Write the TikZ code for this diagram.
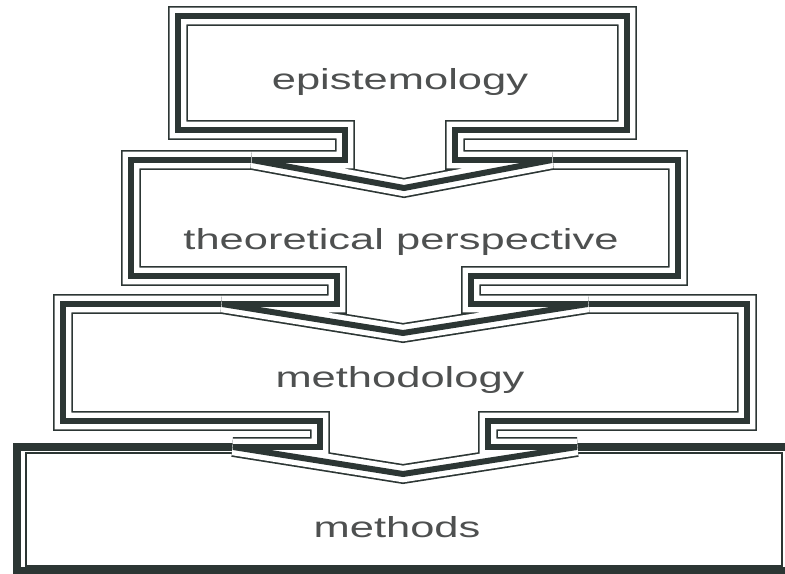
\documentclass[tikz,border=0pt]{standalone}
\usepackage{fontspec}
\newfontfamily\lblfont[FakeStretch=1.5]{Liberation Sans}
\definecolor{inkline}{RGB}{44,54,52}
\definecolor{inktext}{RGB}{78,80,80}

\begin{document}
\begin{tikzpicture}[
              x=0.02cm, y=-0.02cm, miter limit=3,
              frame/.style={preaction={fill=white}, preaction={draw=inkline, line width=11.3pt}, preaction={draw=white, line width=9.4pt}, draw=inkline, line width=3.4pt},
              lastframe/.style={draw=inkline, line width=4.5pt},
              innerline/.style={draw=inkline, line width=0.9pt},
              lvltext/.style={font=\lblfont\fontsize{16.5}{20}\selectfont, text=inktext, anchor=base, inner sep=0pt}
            ]
              \useasboundingbox (0,0) rectangle (785,574);
              \clip (0,0) rectangle (785,574);

              \draw[lastframe] (17,447) rectangle (800,571);
              \draw[innerline] (26,453) rectangle (782,566);

              \draw[frame] (63,304) -- (747,304) -- (747,421) -- (488,421) -- (488,447) -- (577,447) -- (403,474)
                -- (233,447) -- (320,447) -- (320,421) -- (63,421) -- cycle;
              \draw[frame] (131,160) -- (678,160) -- (678,276) -- (471,276) -- (471,304) -- (588,304) -- (403,333)
                -- (222,304) -- (337,304) -- (337,276) -- (131,276) -- cycle;
              \draw[frame] (178,16) -- (627,16) -- (627,130) -- (455,130) -- (455,160) -- (552,160) -- (404,188)
                -- (252,160) -- (345,160) -- (345,130) -- (178,130) -- cycle;

              \node[lvltext] (epist)  at (400,90)  {epistemology};
              \node[lvltext] (theory) at (401,250) {theoretical perspective};
              \node[lvltext] (method) at (400,388) {methodology};
              \node[lvltext] (tools)  at (397,537) {methods};
            \end{tikzpicture}
\end{document}
